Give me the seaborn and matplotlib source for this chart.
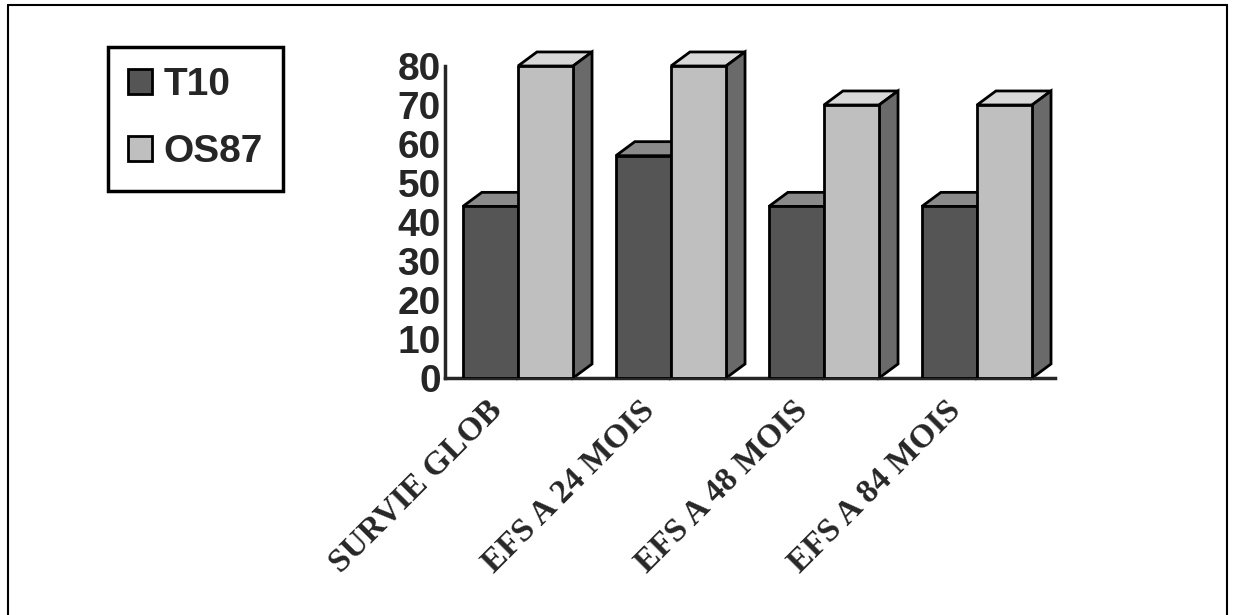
import pandas as pd
import seaborn as sns
from matplotlib import pyplot as plt
from matplotlib.patches import Polygon, Patch
from matplotlib.lines import Line2D
from matplotlib.transforms import ScaledTranslation

# data
categories = ['SURVIE GLOB', 'EFS A 24 MOIS', 'EFS A 48 MOIS', 'EFS A 84 MOIS']
t10 = [44, 57, 44, 44]
os87 = [80, 80, 70, 70]
series = ['T10', 'OS87']
y_ticks = [0, 10, 20, 30, 40, 50, 60, 70, 80]

front = {'T10': '#555555', 'OS87': '#bfbfbf'}
top = {'T10': '#8a8a8a', 'OS87': '#d8d8d8'}
side = {'T10': '#3c3c3c', 'OS87': '#6a6a6a'}

df = pd.DataFrame({
    'cat': categories * 2,
    'serie': ['T10'] * len(categories) + ['OS87'] * len(categories),
    'val': t10 + os87,
})

sns.set_style('white')
plt.rcParams['font.family'] = ['Liberation Sans', 'DejaVu Sans']

fig = plt.figure(figsize=(12.36, 6.15), dpi=100)
ax = fig.add_axes([445 / 1236, 1 - 378 / 615, 610 / 1236, 312 / 615])

sns.barplot(data=df, x='cat', y='val', hue='serie', hue_order=series,
            palette=front, width=0.72, edgecolor='black', linewidth=2,
            saturation=1, legend=False, ax=ax, zorder=3)

# fake 3d: top and side faces behind the front faces
dx, dy = 0.124, 3.6
for name, cont in zip(series, ax.containers):
    for bar in cont:
        x0, w, h = bar.get_x(), bar.get_width(), bar.get_height()
        tp = Polygon([(x0, h), (x0 + dx, h + dy), (x0 + w + dx, h + dy), (x0 + w, h)],
                     closed=True, fc=top[name], ec='black', lw=2, zorder=2, clip_on=False)
        sd = Polygon([(x0 + w, 0), (x0 + w + dx, dy), (x0 + w + dx, h + dy), (x0 + w, h)],
                     closed=True, fc=side[name], ec='black', lw=2, zorder=2, clip_on=False)
        ax.add_patch(tp)
        ax.add_patch(sd)

ax.set_xlim(-0.477, 3.51)
ax.set_ylim(0, 80)
ax.set_xlabel('')
ax.set_ylabel('')
sns.despine(ax=ax)
ax.spines['left'].set_linewidth(2.5)
ax.spines['bottom'].set_linewidth(2.5)

ax.set_yticks(y_ticks)
ax.set_yticklabels([str(v) for v in y_ticks], fontsize=28, fontweight='bold')
ax.tick_params(axis='y', direction='in', length=7, width=2, pad=3)

ax.set_xticks(range(len(categories)))
ax.set_xticklabels(categories, rotation=45, ha='right', rotation_mode='anchor',
                   fontsize=24, fontweight='bold', family=['Liberation Serif', 'DejaVu Serif'])
ax.tick_params(axis='x', length=0, pad=12)
shift = ScaledTranslation(-0.32, 0, fig.dpi_scale_trans)
for lab in ax.get_xticklabels():
    lab.set_transform(lab.get_transform() + shift)
ax.set_xticks([0.5, 1.5, 2.5, 3.5], minor=True)
ax.tick_params(axis='x', which='minor', direction='in', length=7, width=2)

handles = [Patch(fc=front[s], ec='black', lw=2) for s in series]
leg = fig.legend(handles, series, loc='upper left',
                 bbox_to_anchor=(108 / 1236, 1 - 47 / 615),
                 frameon=True, fancybox=False, edgecolor='black', framealpha=1,
                 prop={'size': 28, 'weight': 'bold'},
                 handlelength=0.6, handleheight=0.6, handletextpad=0.3,
                 labelspacing=0.8, borderpad=0.52, borderaxespad=0)
leg.get_frame().set_linewidth(2.5)

# page frame
for xs, ys in [([8, 8], [0, 610]), ([8, 1227], [610, 610]), ([1227, 1227], [610, 0])]:
    fig.add_artist(Line2D([x / 1236 for x in xs], [y / 615 for y in ys],
                          color='black', lw=1.5))

fig.savefig('out.png', dpi=100)
